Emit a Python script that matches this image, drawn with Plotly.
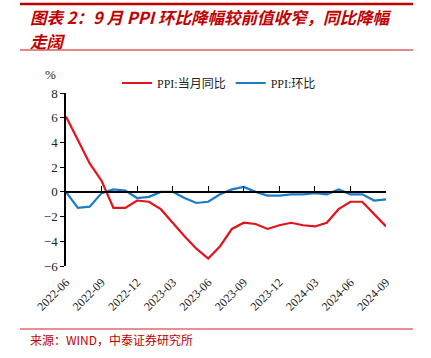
import plotly.graph_objects as go

months = ["2022-06","2022-07","2022-08","2022-09","2022-10","2022-11","2022-12",
          "2023-01","2023-02","2023-03","2023-04","2023-05","2023-06","2023-07",
          "2023-08","2023-09","2023-10","2023-11","2023-12","2024-01","2024-02",
          "2024-03","2024-04","2024-05","2024-06","2024-07","2024-08","2024-09"]
ppi_yoy = [6.1, 4.2, 2.3, 0.9, -1.3, -1.3, -0.7, -0.8, -1.4, -2.5, -3.6, -4.6, -5.4, -4.4,
           -3.0, -2.5, -2.6, -3.0, -2.7, -2.5, -2.7, -2.8, -2.5, -1.4, -0.8, -0.8, -1.8, -2.8]
ppi_mom = [0.0, -1.3, -1.2, -0.1, 0.2, 0.1, -0.5, -0.4, 0.0, 0.0, -0.5, -0.9, -0.8, -0.2,
           0.2, 0.4, 0.0, -0.3, -0.3, -0.2, -0.2, -0.1, -0.2, 0.2, -0.2, -0.2, -0.7, -0.6]
tick_labels = months[::3]

RED = "#E3121B"
BLUE = "#1A7BC6"
TITLE_RED = "#C00000"
SERIF = "Liberation Serif, Noto Sans CJK SC"
W, H = 431, 358

fig = go.Figure()
fig.add_trace(go.Scatter(x=months, y=ppi_yoy, mode="lines", name="PPI:当月同比",
                         line=dict(color=RED, width=2.2)))
fig.add_trace(go.Scatter(x=months, y=ppi_mom, mode="lines", name="PPI:环比",
                         line=dict(color=BLUE, width=2.2), xaxis="x2"))

ymin, ymax = -6, 8
fig.update_layout(
    width=W, height=H,
    margin=dict(l=66, r=45, t=93, b=92, autoexpand=False),
    paper_bgcolor="white", plot_bgcolor="white",
    showlegend=True,
    legend=dict(orientation="h", xref="container", yref="container",
                x=117 / W, y=1 - 83 / H, xanchor="left", yanchor="middle",
                font=dict(family=SERIF, size=12, color="#222"),
                itemwidth=30, bgcolor="rgba(0,0,0,0)"),
    xaxis=dict(type="category", categoryorder="array", categoryarray=months,
               range=[0, len(months) - 1], showline=False, showgrid=False,
               zeroline=False, ticks="", tickvals=tick_labels, ticktext=tick_labels,
               tickangle=-45, automargin=False, ticklabelstandoff=6,
               tickfont=dict(family=SERIF, size=12, color="#222")),
    xaxis2=dict(type="category", categoryorder="array", categoryarray=months,
                range=[0, len(months) - 1], overlaying="x", anchor="free",
                position=(0 - ymin) / (ymax - ymin), side="bottom",
                showline=True, linecolor="black", linewidth=1.5,
                ticks="inside", ticklen=5, tickcolor="black", tickwidth=1.2,
                tickvals=tick_labels, showticklabels=False, showgrid=False,
                zeroline=False, automargin=False),
    yaxis=dict(range=[ymin, ymax], dtick=2, showline=True, linecolor="black",
               linewidth=1.5, ticks="outside", ticklen=4, tickcolor="black",
               showgrid=False, zeroline=False, automargin=False,
               tickfont=dict(family=SERIF, size=13, color="#222")),
)

def ann(text, xpx, ypx, font, xanchor="left", align="left"):
    fig.add_annotation(text=text, xref="paper", yref="paper",
                       x=(xpx - 66) / 320, y=(266 - ypx) / 173,
                       xanchor=xanchor, yanchor="middle", showarrow=False,
                       align=align, font=font)

ann("%", 50, 75, dict(family=SERIF, size=13, color="#222"), xanchor="center")
TF = dict(family="Noto Sans CJK SC", size=16.5, color=TITLE_RED)
ann("<b><i>图表 2：9 月 PPI 环比降幅较前值收窄，同比降幅</i></b>", 28, 17, TF)
ann("<b><i>走阔</i></b>", 28, 41, TF)
ann("来源：WIND，中泰证券研究所", 28, 339,
    dict(family="Noto Sans CJK SC", size=12, color=TITLE_RED))

def hrule(ypx, color, width):
    fig.add_shape(type="line", xref="paper", yref="paper",
                  x0=(20 - 66) / 320, x1=(413 - 66) / 320,
                  y0=(266 - ypx) / 173, y1=(266 - ypx) / 173,
                  line=dict(color=color, width=width))

hrule(4, "#C00000", 2.5)
hrule(50, "#E08A8A", 2)
hrule(329, "#D42020", 1.2)

fig.write_html("out.html", config={"displayModeBar": False},
               post_script="document.body.style.margin='0';")
